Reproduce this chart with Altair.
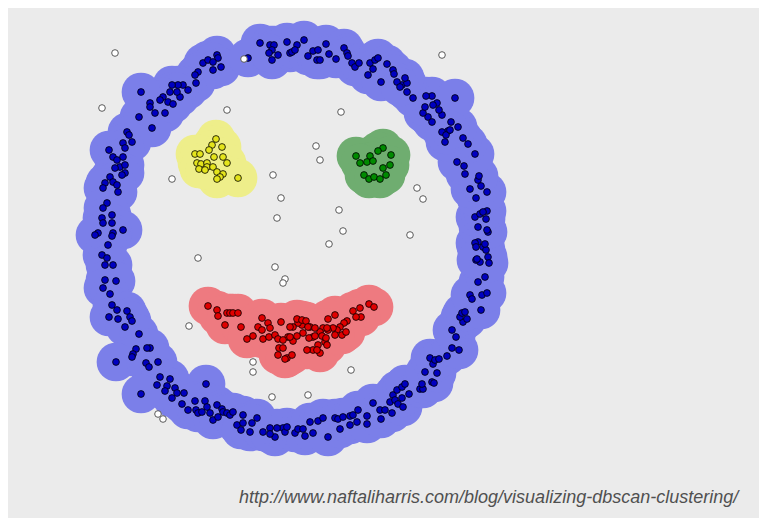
import altair as alt
import pandas as pd

# ---- data (image-like coordinates: x to the right, y downward) ----
ring_points = [
    # top-left arc
    (203,63),(208,60),(217,55),(218,58),(213,62),(213,70),(221,67),(198,72),(195,75),(196,83),
    (188,90),(183,85),(178,85),(172,85),(170,92),(180,97),(177,92),(163,97),(160,100),(168,102),
    (150,103),(150,107),(155,113),(165,113),(141,92),(139,117),(152,128),(173,104),
    # left side
    (127,132),(129,135),(123,143),(132,142),(109,150),(113,157),(125,148),(123,157),(117,160),(120,167),
    (125,165),(115,168),(125,173),(122,175),(110,177),(105,183),(113,182),(117,185),(103,188),(118,192),
    (107,203),(103,208),(112,215),(102,218),(103,223),(112,223),(123,230),(98,233),(95,235),(113,233),
    (112,236),(108,245),(102,255),(107,258),(113,265),(105,265),(105,280),(116,281),(103,288),(110,294),
    (112,305),(117,310),(127,311),(109,317),(118,319),(130,317),(132,321),(125,327),(139,334),(136,349),
    (150,348),(147,348),(133,354),(132,357),(116,362),(146,363),(149,367),(158,362),
    # bottom-left
    (160,377),(170,379),(157,385),(167,386),(175,388),(165,391),(177,393),(184,393),(172,398),(141,394),
    (206,384),(182,404),(188,410),(195,401),(196,410),(198,413),(205,401),(207,407),(202,412),(210,413),
    (217,405),(222,409),(213,420),(218,417),(223,412),(227,413),(230,415),(233,412),(243,415),(257,418),
    (237,425),(243,423),(241,430),(250,432),(252,423),(263,432),(270,428),(275,437),(283,428),(270,434),
    # bottom-right
    (277,428),(285,432),(287,427),(295,433),(298,429),(303,429),(305,436),(310,422),(313,433),(318,421),
    (323,418),(328,437),(335,418),(338,419),(340,429),(343,417),(350,416),(350,425),(353,415),(357,422),
    (358,410),(367,416),(367,424),(373,403),(381,419),(380,410),(385,410),(392,413),(390,402),(393,395),
    (395,400),(398,404),(403,407),(402,398),(397,390),(402,387),(405,384),(409,394),(420,389),(423,389),
    (422,384),(432,382),(434,383),(425,372),(437,373),(433,364),(430,358),(435,360),(439,359),(447,356),
    (452,348),(459,350),(456,337),(452,330),(463,322),(467,319),(460,317),(462,313),(465,312),(481,310),
    (470,295),(472,299),(482,295),(487,293),(478,282),(485,277),(480,262),(476,260),(488,257),(483,247),
    (478,242),(475,243),(488,232),
    # right side
    (486,250),(476,247),(485,244),(477,259),(489,263),(487,230),(478,227),(486,219),(475,217),(480,214),
    (487,211),(483,212),(476,198),(487,192),(470,189),(481,186),(478,180),(479,176),(465,174),(464,166),
    (457,162),(475,154),(468,144),(463,138),(458,127),(445,142),(448,131),(442,132),(451,122),(442,115),
    (439,110),(428,117),(432,122),(423,113),(437,103),(433,105),(425,107),(432,96),(426,96),(413,98),
    (407,92),(402,85),(407,83),(405,78),(455,98),(446,135),(450,130),
    # top arc
    (260,43),(270,45),(274,45),(272,50),(278,55),(272,60),(287,42),(290,53),(248,58),(269,53),
    (297,45),(304,40),(292,52),(295,50),(308,56),(313,51),(318,50),(317,60),(320,60),(326,44),
    (329,54),(336,59),(344,48),(347,53),(348,56),(352,63),(355,67),(359,63),(370,63),(375,60),
    (378,58),(373,69),(368,75),(381,82),(387,64),(393,70),(394,74),(397,82),(400,87),
]

left_eye_points = [
    (216,139),(212,145),(222,147),(209,150),(195,154),(200,154),(214,157),(223,157),(197,163),(201,164),
    (207,163),(227,163),(207,167),(213,167),(199,169),(217,172),(223,174),(220,177),(217,179),(238,178),
    (205,170),
]

right_eye_points = [
    (383,148),(378,151),(356,156),(370,156),(391,155),(367,162),(373,161),(360,163),(390,165),(383,168),
    (364,175),(369,179),(374,177),(380,179),(386,175),
]

mouth_points = [
    (208,306),(217,310),(218,316),(227,313),(230,313),(233,313),(238,313),(225,325),(241,327),(253,336),
    (247,339),(262,318),(258,327),(262,330),(268,323),(270,328),(281,322),(263,339),(269,337),(275,335),
    (278,339),(288,337),(279,348),(283,348),(278,355),(287,358),(292,355),(285,359),(293,341),
    (369,304),(374,307),(360,308),(361,317),(353,311),(356,317),(347,321),(344,323),(335,315),(328,319),
    (340,327),(337,330),(333,328),(328,330),(323,328),(320,332),(322,336),(313,337),(309,338),(342,335),
    (346,332),(325,342),(318,345),(327,345),(313,350),(307,350),(320,353),(317,350),(310,327),(305,323),
    (302,325),(298,323),(293,327),(290,327),(297,319),(302,320),(303,333),(297,336),(290,337),(283,340),
    (315,336),(326,338),(335,335),(306,321),(308,327),(327,328),(315,328),
]

noise_points = [
    (115,53),(102,108),(227,110),(244,59),(172,179),(273,175),(281,198),(277,218),(316,146),(320,160),
    (341,112),(442,55),(339,210),(343,231),(417,188),(423,199),(410,235),(329,244),(198,258),(275,267),
    (285,279),(283,283),(189,326),(253,362),(253,372),(351,370),(272,397),(308,395),(158,414),(163,419),
]

clusters = ["ring", "left_eye", "right_eye", "mouth"]
halo_colors = ["#7b7fe9", "#eeee8a", "#6fad70", "#ee7a80"]
dot_colors = ["#0000c0", "#e4e41c", "#008a00", "#e00000"]

url_text = ["http://www.naftaliharris.com/blog/visualizing-dbscan-clustering/"]
url_pos = [(239, 503)]

# ---- build tables ----
rows = []
for name, pts in zip(clusters, [ring_points, left_eye_points, right_eye_points, mouth_points]):
    for x, y in pts:
        rows.append({"x": x, "y": y, "cluster": name})
df = pd.DataFrame(rows)
noise_df = pd.DataFrame([{"x": x, "y": y} for x, y in noise_points])
text_df = pd.DataFrame([{"x": p[0], "y": p[1], "t": t} for p, t in zip(url_pos, url_text)])

W, H = 751, 510
xs = alt.Scale(domain=[8, 8 + W], nice=False, zero=False)
ys = alt.Scale(domain=[8, 8 + H], nice=False, zero=False, reverse=True)
X = alt.X("x:Q", scale=xs, axis=None)
Y = alt.Y("y:Q", scale=ys, axis=None)

halo = alt.Chart(df).mark_circle(size=1500, opacity=1).encode(
    x=X, y=Y,
    color=alt.Color("cluster:N", scale=alt.Scale(domain=clusters, range=halo_colors), legend=None),
)

dots = alt.Chart(df).mark_circle(size=46, opacity=1, stroke="black", strokeWidth=0.8).encode(
    x=X, y=Y,
    color=alt.Color("cluster:N", scale=alt.Scale(domain=clusters, range=dot_colors), legend=None),
)

noise = alt.Chart(noise_df).mark_circle(
    size=44, opacity=1, color="white", stroke="#5a5a5a", strokeWidth=1
).encode(x=X, y=Y)

label = alt.Chart(text_df).mark_text(
    align="left", baseline="alphabetic", fontStyle="italic", fontSize=18,
    font="Liberation Sans", color="#505050"
).encode(x=X, y=Y, text="t:N")

chart = alt.layer(halo, dots, noise, label).resolve_scale(color="independent").properties(
    width=W, height=H, padding=0, autosize=alt.AutoSizeParams(type="none"),
    background="#ebebeb",
).configure_view(strokeWidth=0)

chart.save("out.html", embed_options={"renderer": "svg", "actions": False})
